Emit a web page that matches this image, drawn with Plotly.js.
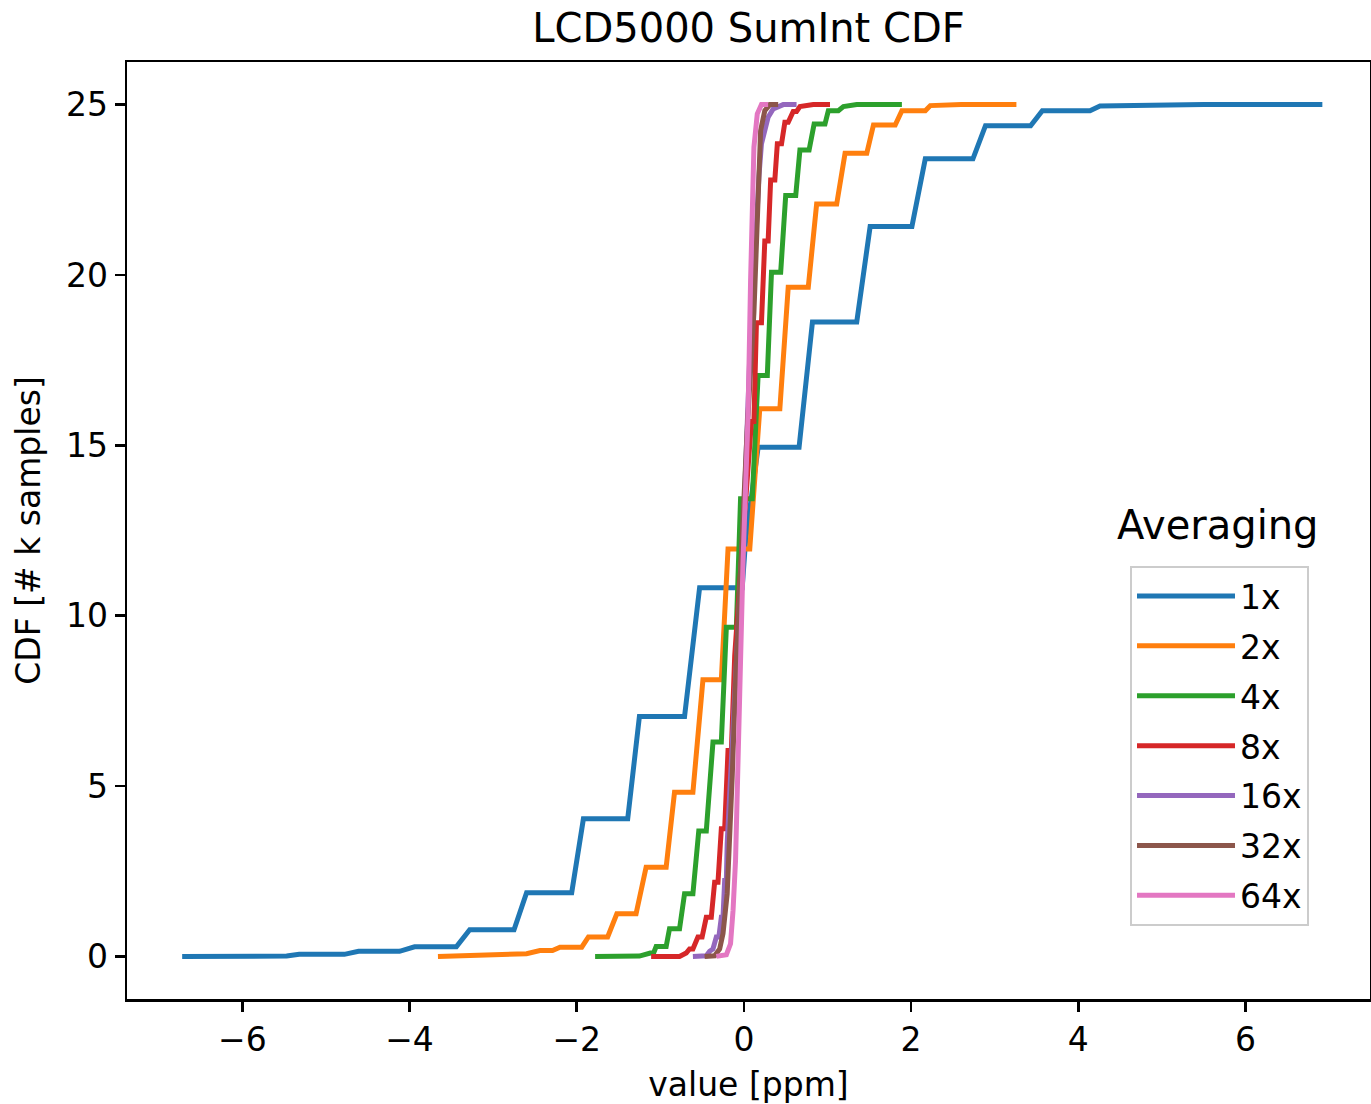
<!DOCTYPE html>
<html>
<head>
<meta charset="utf-8">
<script src="https://cdn.plot.ly/plotly-3.0.1.min.js"></script>
<style>html,body{margin:0;padding:0;background:#fff;}#chart{width:1371px;height:1104px;}</style>
</head>
<body>
<div id="chart"></div>
<script>
// Series labels and colours
const seriesNames = ["1x", "2x", "4x", "8x", "16x", "32x", "64x"];
const seriesColors = ["#1f77b4", "#ff7f0e", "#2ca02c", "#d62728", "#9467bd", "#8c564b", "#e377c2"];

// CDF curves (value [ppm], CDF [k samples])
const x1 = [-6.72, -5.47, -5.32, -4.78, -4.61, -4.12, -3.94, -3.44, -3.28, -2.75, -2.60, -2.06, -1.92, -1.39, -1.25, -0.71, -0.53, -0.02, 0.02, 0.17, 0.66, 0.82, 1.35, 1.51, 2.01, 2.17, 2.74, 2.89, 3.43, 3.57, 4.14, 4.26, 5.5, 6.92];
const y1 = [0, 0.01, 0.06, 0.06, 0.15, 0.15, 0.28, 0.28, 0.78, 0.78, 1.87, 1.87, 4.04, 4.04, 7.04, 7.04, 10.82, 10.82, 12.2, 14.94, 14.94, 18.62, 18.62, 21.42, 21.42, 23.41, 23.41, 24.38, 24.38, 24.82, 24.82, 24.96, 25.0, 25.0];

const x2 = [-3.66, -2.6, -2.44, -2.29, -2.2, -1.94, -1.86, -1.63, -1.52, -1.29, -1.17, -0.93, -0.83, -0.61, -0.49, -0.27, -0.19, 0.07, 0.19, 0.43, 0.53, 0.77, 0.87, 1.11, 1.21, 1.47, 1.55, 1.81, 1.89, 2.17, 2.23, 2.6, 3.26];
const y2 = [0, 0.08, 0.17, 0.17, 0.27, 0.27, 0.57, 0.57, 1.25, 1.25, 2.62, 2.62, 4.82, 4.82, 8.12, 8.12, 11.96, 11.96, 16.07, 16.07, 19.64, 19.64, 22.08, 22.08, 23.57, 23.57, 24.4, 24.4, 24.82, 24.82, 24.97, 25.0, 25.0];

const x4 = [-1.78, -1.25, -1.12, -1.08, -1.05, -0.93, -0.89, -0.77, -0.71, -0.61, -0.54, -0.45, -0.37, -0.27, -0.21, -0.09, -0.04, 0.10, 0.17, 0.28, 0.33, 0.44, 0.50, 0.62, 0.67, 0.78, 0.84, 0.97, 1.01, 1.13, 1.19, 1.35, 1.89];
const y4 = [0, 0.01, 0.1, 0.1, 0.29, 0.29, 0.81, 0.81, 1.84, 1.84, 3.68, 3.68, 6.29, 6.29, 9.66, 9.66, 13.43, 13.43, 17.05, 17.05, 20.08, 20.08, 22.33, 22.33, 23.67, 23.67, 24.43, 24.43, 24.82, 24.82, 24.94, 25.0, 25.0];

const x8 = [-1.11, -0.77, -0.69, -0.65, -0.61, -0.55, -0.50, -0.45, -0.39, -0.35, -0.31, -0.27, -0.23, -0.19, -0.15, -0.11, -0.02, 0.09, 0.12, 0.15, 0.21, 0.25, 0.29, 0.32, 0.37, 0.40, 0.45, 0.49, 0.53, 0.59, 0.63, 0.67, 0.83, 1.03];
const y8 = [0, 0, 0.1, 0.22, 0.22, 0.57, 0.57, 1.15, 1.15, 2.18, 2.18, 3.75, 3.75, 6.04, 6.04, 8.83, 12.0, 15.7, 15.7, 18.6, 18.6, 21.0, 21.0, 22.79, 22.79, 23.85, 23.85, 24.48, 24.48, 24.8, 24.8, 24.94, 25.0, 25.0];

const x16 = [-0.61, -0.45, -0.41, -0.37, -0.33, -0.30, -0.27, -0.25, -0.23, -0.21, -0.20, -0.17, -0.13, -0.07, 0.0, 0.07, 0.11, 0.15, 0.18, 0.21, 0.25, 0.29, 0.35, 0.47, 0.63];
const y16 = [0, 0.02, 0.15, 0.22, 0.57, 0.57, 1.15, 1.15, 2.23, 2.23, 3.31, 4.87, 7.02, 9.57, 13.0, 17.59, 19.5, 21.79, 22.9, 23.85, 24.3, 24.63, 24.87, 25.0, 25.0];

const x32 = [-0.47, -0.35, -0.29, -0.25, -0.20, -0.17, -0.14, -0.09, -0.02, 0.04, 0.12, 0.17, 0.20, 0.25, 0.31, 0.41];
const y32 = [0, 0.02, 0.22, 0.67, 1.84, 3.31, 5.26, 8.69, 12.5, 15.5, 18.9, 22.77, 24.24, 24.82, 25.0, 25.0];

const x64 = [-0.33, -0.21, -0.16, -0.13, -0.10, -0.075, -0.05, -0.01, 0.05, 0.08, 0.10, 0.12, 0.16, 0.21, 0.29];
const y64 = [0, 0.05, 0.37, 1.35, 2.82, 4.77, 7.71, 11.62, 15.92, 19.84, 21.8, 23.75, 24.73, 25.0, 25.0];

const xTickVals = [-6, -4, -2, 0, 2, 4, 6];
const yTickVals = [0, 5, 10, 15, 20, 25];

const seriesX = [x1, x2, x4, x8, x16, x32, x64];
const seriesY = [y1, y2, y4, y8, y16, y32, y64];

const font = "DejaVu Sans, Verdana, sans-serif";

const traces = seriesNames.map((name, i) => ({
  type: "scatter",
  mode: "lines",
  name: name,
  legendgroup: "g" + i,
  x: seriesX[i],
  y: seriesY[i],
  line: {color: seriesColors[i], width: 5}
}));

const axisCommon = {
  showgrid: false,
  zeroline: false,
  showline: true,
  mirror: true,
  linecolor: "#000",
  linewidth: 2.5,
  ticks: "outside",
  ticklen: 10,
  tickwidth: 2.5,
  tickcolor: "#000",
  tickfont: {family: font, size: 33, color: "#000"},
  fixedrange: true
};

const layout = {
  width: 1371,
  height: 1104,
  margin: {l: 127, r: 1, t: 62, b: 105},
  paper_bgcolor: "#fff",
  plot_bgcolor: "#fff",
  font: {family: font, color: "#000"},
  title: {
    text: "LCD5000 SumInt CDF",
    font: {family: font, size: 40, color: "#000"},
    x: 0.5, xref: "paper", xanchor: "center",
    y: 1 - 28 / 1104, yref: "container", yanchor: "middle"
  },
  xaxis: Object.assign({}, axisCommon, {
    range: [-7.38, 7.49],
    tickvals: xTickVals,
    title: {text: "value [ppm]", font: {family: font, size: 33, color: "#000"}, standoff: 16}
  }),
  yaxis: Object.assign({}, axisCommon, {
    range: [-1.25, 26.25],
    tickvals: yTickVals,
    title: {text: "CDF [# k samples]", font: {family: font, size: 33, color: "#000"}, standoff: 16}
  }),
  showlegend: true,
  legend: {
    x: (1130 - 127) / 1243, xanchor: "left",
    y: (999 - 566) / 937, yanchor: "top",
    bgcolor: "rgba(255,255,255,0.8)",
    bordercolor: "#cccccc",
    borderwidth: 2,
    font: {family: font, size: 33, color: "#000"},
    itemwidth: 98,
    tracegroupgap: 4
  },
  annotations: [{
    text: "Averaging",
    xref: "paper", yref: "paper",
    x: (1218 - 127) / 1243, y: (999 - 525) / 937,
    xanchor: "center", yanchor: "middle",
    showarrow: false,
    font: {family: font, size: 40, color: "#000"}
  }]
};

Plotly.newPlot("chart", traces, layout, {staticPlot: true});
</script>
</body>
</html>
